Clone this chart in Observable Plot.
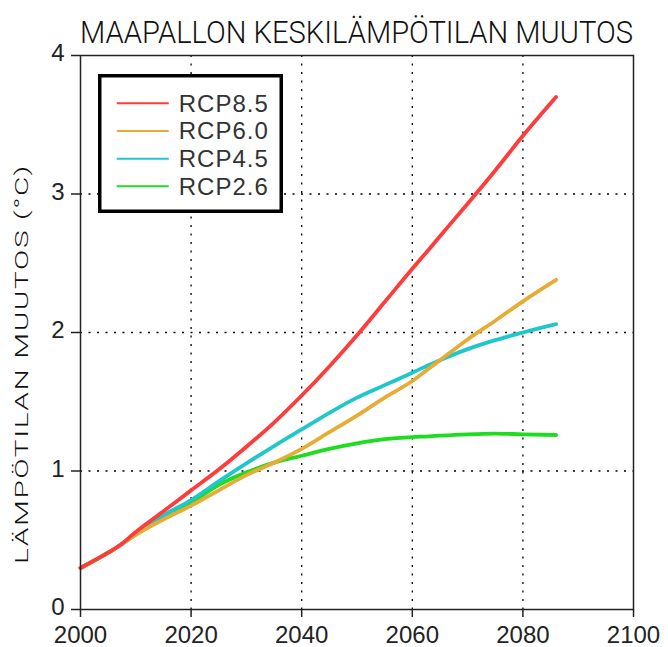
<!DOCTYPE html>
<html>
<head>
<meta charset="utf-8">
<script src="https://cdn.jsdelivr.net/npm/d3@7"></script>
<script src="https://cdn.jsdelivr.net/npm/@observablehq/plot@0.6"></script>
<style>
  body { margin: 0; background: #fff; }
  #chart svg { display: block; }
</style>
</head>
<body>
<div id="chart"></div>
<script>
// ---- data ----
const titleText = "MAAPALLON KESKILÄMPÖTILAN MUUTOS";
const yLabelText = "LÄMPÖTILAN MUUTOS (°C)";
const seriesNames = ["RCP8.5", "RCP6.0", "RCP4.5", "RCP2.6"];
const seriesColors = ["#ff3b3b", "#e6ac35", "#1fc6cb", "#1edc1e"];
const years = [2000, 2005, 2007, 2010, 2015, 2020, 2025, 2030, 2035, 2040, 2045, 2050, 2055, 2060, 2063, 2065, 2070, 2075, 2080, 2086];
const rcp85 = [0.30, 0.41, 0.46, 0.56, 0.71, 0.86, 1.01, 1.175, 1.35, 1.545, 1.755, 1.98, 2.22, 2.46, 2.60, 2.695, 2.93, 3.17, 3.42, 3.70];
const rcp60 = [0.30, 0.41, 0.46, 0.54, 0.65, 0.75, 0.86, 0.97, 1.06, 1.16, 1.28, 1.40, 1.53, 1.65, 1.74, 1.80, 1.95, 2.085, 2.225, 2.38];
const rcp45 = [0.30, 0.41, 0.46, 0.55, 0.68, 0.79, 0.925, 1.055, 1.18, 1.30, 1.42, 1.53, 1.62, 1.71, 1.765, 1.80, 1.88, 1.945, 2.00, 2.06];
const rcp26 = [0.30, 0.41, 0.46, 0.54, 0.66, 0.77, 0.90, 0.99, 1.06, 1.11, 1.16, 1.20, 1.23, 1.245, 1.25, 1.255, 1.265, 1.27, 1.265, 1.26];
const xTicks = [2000, 2020, 2040, 2060, 2080, 2100];
const yTicks = [0, 1, 2, 3, 4];
const xGrid = [2020, 2040, 2060, 2080];
const yGrid = [1, 2, 3];

// ---- build table (drawing order: 2.6, 4.5, 6.0, 8.5 on top) ----
const seriesValues = {"RCP8.5": rcp85, "RCP6.0": rcp60, "RCP4.5": rcp45, "RCP2.6": rcp26};
const drawOrder = ["RCP2.6", "RCP4.5", "RCP6.0", "RCP8.5"];
const rows = [];
for (const s of drawOrder) {
  years.forEach((yr, i) => rows.push({series: s, year: yr, value: seriesValues[s][i]}));
}

const gridStyle = {stroke: "#000", strokeOpacity: 1, strokeWidth: 1.3, strokeDasharray: "2,6.5"};

const chart = Plot.plot({
  width: 668,
  height: 647,
  marginLeft: 80,
  marginRight: 35,
  marginTop: 55,
  marginBottom: 38,
  style: {fontFamily: "'Liberation Sans', Arial, sans-serif", fontSize: "25px", color: "#222", background: "#fff", overflow: "visible"},
  x: {domain: [2000, 2100]},
  y: {domain: [0, 4]},
  color: {domain: seriesNames, range: seriesColors},
  marks: [
    Plot.gridX(xGrid, gridStyle),
    Plot.gridY(yGrid, gridStyle),
    Plot.line(rows, {x: "year", y: "value", z: "series", stroke: "series", strokeWidth: 3.8, curve: "monotone-x"}),
    Plot.frame({stroke: "#222", strokeWidth: 1.5}),
    Plot.axisX(xTicks, {tickSize: 8, tickPadding: 8, tickFormat: d => String(d), label: null, fontSize: 24, strokeWidth: 1.5}),
    Plot.axisY(yTicks, {tickSize: 9, tickPadding: 7, tickFormat: d => String(d), label: null, fontSize: 24, strokeWidth: 1.5})
  ]
});

document.getElementById("chart").appendChild(chart);

const svg = d3.select(chart);
// nudge only the y tick labels up slightly so "0" clears "2000"
svg.selectAll('g[aria-label="y-axis tick label"]').attr("transform", function () {
  const t = this.getAttribute("transform") || "";
  return t + " translate(0,-2)";
});

const xs = chart.scale("x"), ys = chart.scale("y");
const x0 = xs.apply(2000), x1 = xs.apply(2100), yTop = ys.apply(4), yBot = ys.apply(0);

// title (scaled horizontally to the reference width)
const title = svg.append("text")
  .attr("x", 0)
  .attr("y", 0)
  .attr("text-anchor", "middle")
  .style("font-family", "Roboto, 'Liberation Sans', sans-serif")
  .style("font-weight", 300)
  .style("font-size", "32px")
  .attr("fill", "#111")
  .text(titleText);
const tw = title.node().getComputedTextLength() || 553;
title.attr("transform", `translate(${(x0 + x1) / 2}, 43) scale(${553 / tw}, 1)`);

// y label
const ylab = svg.append("text")
  .attr("x", 0)
  .attr("y", 0)
  .attr("text-anchor", "middle")
  .style("font-family", "Roboto, 'Liberation Sans', sans-serif")
  .style("font-weight", 300)
  .style("font-size", "19px")
  .style("letter-spacing", "1px")
  .attr("fill", "#111")
  .text(yLabelText);
const lw = ylab.node().getComputedTextLength() || 400;
ylab.attr("transform", `translate(28, ${(yTop + yBot) / 2 + 32}) rotate(-90) scale(${400 / lw}, 1)`);

// legend
const lg = svg.append("g").attr("text-anchor", "start");
const bx = x0 + 19.75, by = yTop + 20.75, bw = 181.5, bh = 135.5;
lg.append("rect").attr("x", bx).attr("y", by).attr("width", bw).attr("height", bh)
  .attr("fill", "#fff").attr("stroke", "#000").attr("stroke-width", 3.5);
seriesNames.forEach((s, i) => {
  const yy = by + 27.5 + i * 27.7;
  lg.append("line").attr("x1", bx + 17).attr("x2", bx + 69).attr("y1", yy).attr("y2", yy)
    .attr("stroke", seriesColors[i]).attr("stroke-width", 2);
  lg.append("text").attr("x", bx + 79).attr("y", yy + 8.5)
    .attr("text-anchor", "start")
    .style("font-family", "'Liberation Sans', Arial, sans-serif")
    .style("font-size", "24px").style("letter-spacing", "1px")
    .attr("fill", "#333").text(s);
});
</script>
</body>
</html>
